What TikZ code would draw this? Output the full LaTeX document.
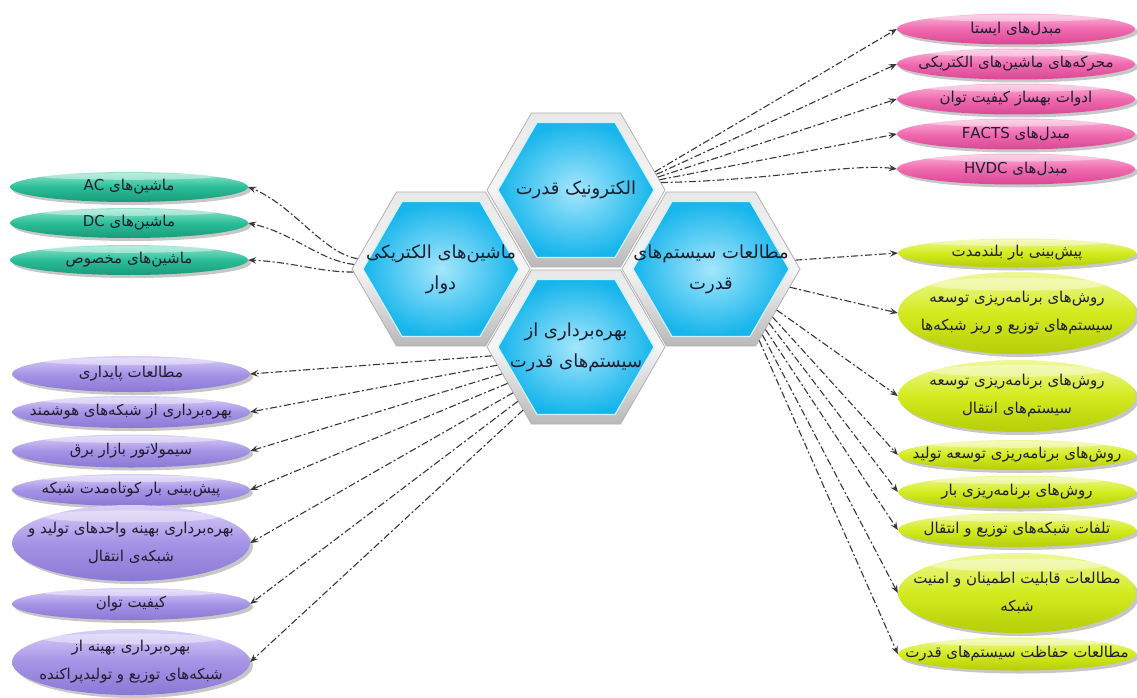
\documentclass[tikz,border=0pt]{standalone}
\usepackage{fontspec}
\usetikzlibrary{shapes.geometric,arrows.meta,shadows,calc}
\TeXXeTstate=1
\newfontfamily\arabicfont[Script=Arabic]{DejaVu Sans}
\newcommand{\rtxt}[1]{\beginR #1\endR}
\newcommand{\ltxt}[1]{\beginL #1\endL{}}
\definecolor{gmain}{HTML}{2ABE98}
\definecolor{glight}{HTML}{93E4CE}
\definecolor{gdark}{HTML}{1A9A7A}
\definecolor{pmain}{HTML}{F06AAE}
\definecolor{plight}{HTML}{FAB8DA}
\definecolor{pdark}{HTML}{D84794}
\definecolor{ymain}{HTML}{D3EB1E}
\definecolor{ylight}{HTML}{EFF89A}
\definecolor{ydark}{HTML}{B6CD08}
\definecolor{vmain}{HTML}{A593E6}
\definecolor{vlight}{HTML}{D8D0F8}
\definecolor{vdark}{HTML}{8A78D6}
\definecolor{hexin}{HTML}{A5E6FC}
\definecolor{hexout}{HTML}{16B5EC}
\definecolor{hexedge}{HTML}{CDF1FD}
\definecolor{linec}{HTML}{383838}
\definecolor{txt}{HTML}{1E1E30}
\begin{document}
\begin{tikzpicture}[x=1pt,y=-1pt,
  oval/.style={ellipse, inner xsep=-100pt, inner ysep=-16pt, minimum width=238pt,
    font=\arabicfont\fontsize{15}{28}\selectfont, text=txt, align=center,
    drop shadow={shadow xshift=3pt, shadow yshift=-3pt, fill=black, opacity=0.22},
    path picture={\fill[white,opacity=0.4] let \p1=(path picture bounding box.north east),
      \p2=(path picture bounding box.south west) in
      ($(path picture bounding box.north)!0.15!(path picture bounding box.south)$)
      ellipse [x radius={0.37*(\x1-\x2)}, y radius={0.06*(\y1-\y2)+1.5}];}},
  goval/.style={oval, top color=glight, bottom color=gdark, middle color=gmain, minimum height=#1},
  goval/.default=30pt,
  poval/.style={oval, top color=plight, bottom color=pdark, middle color=pmain, minimum height=#1},
  poval/.default=31pt,
  yoval/.style={oval, top color=ylight, bottom color=ydark, middle color=ymain, minimum height=#1},
  yoval/.default=31pt,
  voval/.style={oval, top color=vlight, bottom color=vdark, middle color=vmain, minimum height=#1},
  voval/.default=33pt,
  hexo/.style={regular polygon, regular polygon sides=6, minimum size=178pt, inner sep=0pt,
    top color=gray!18, bottom color=gray!55, middle color=gray!8, draw=gray!60, line width=0.8pt},
  hexi/.style={regular polygon, regular polygon sides=6, minimum size=156pt, inner sep=0pt,
    inner color=hexin, outer color=hexout, draw=hexedge, line width=1.2pt},
  hext/.style={font=\arabicfont\fontsize{18}{31}\selectfont, text=txt, align=center},
  conn/.style={draw=linec, line width=1.1pt, dash pattern=on 7pt off 2.5pt on 2pt off 2.5pt,
    -{Stealth[length=8pt,width=6.5pt,inset=3pt]}}
]
\useasboundingbox (0,0) rectangle (1137,698);
\fill[white] (0,0) rectangle (1137,698);

% hexagons
\node[hexo] (hT) at (576,190) {};
\node[hexi] (hTi) at (hT.center) {};
\node[hext] (tT) at (hT.center) {\rtxt{الکترونیک قدرت}};

\node[hexo] (hL) at (441,269) {};
\node[hexi] (hLi) at (hL.center) {};
\node[hext] (tL) at (hL.center) {\rtxt{ماشین^^^^200cهای الکتریکی}\\\rtxt{دوار}};

\node[hexo] (hR) at (711,269) {};
\node[hexi] (hRi) at (hR.center) {};
\node[hext] (tR) at (hR.center) {\rtxt{مطالعات سیستم^^^^200cهای}\\\rtxt{قدرت}};

\node[hexo] (hB) at (576,347) {};
\node[hexi] (hBi) at (hB.center) {};
\node[hext] (tB) at (hB.center) {\rtxt{بهره^^^^200cبرداری از}\\\rtxt{سیستم^^^^200cهای قدرت}};

% green
\node[goval] (g1) at (129,187) {\rtxt{ماشین^^^^200cهای \ltxt{AC}}};
\node[goval] (g2) at (129,223) {\rtxt{ماشین^^^^200cهای \ltxt{DC}}};
\node[goval] (g3) at (129,260) {\rtxt{ماشین^^^^200cهای مخصوص}};

% pink
\node[poval] (p1) at (1016,29) {\rtxt{مبدل^^^^200cهای ایستا}};
\node[poval] (p2) at (1016,64) {\rtxt{محرکه^^^^200cهای ماشین^^^^200cهای الکتریکی}};
\node[poval] (p3) at (1016,99) {\rtxt{ادوات بهساز کیفیت توان}};
\node[poval] (p4) at (1016,134) {\rtxt{مبدل^^^^200cهای \ltxt{FACTS}}};
\node[poval] (p5) at (1016,169) {\rtxt{مبدل^^^^200cهای \ltxt{HVDC}}};

% yellow
\node[yoval=29pt] (y1) at (1017,253) {\rtxt{پیش^^^^200cبینی بار بلندمدت}};
\node[yoval=82pt] (y2) at (1017,313) {\rtxt{روش^^^^200cهای برنامه^^^^200cریزی توسعه}\\\rtxt{سیستم^^^^200cهای توزیع و ریز شبکه^^^^200cها}};
\node[yoval=72pt] (y3) at (1017,396) {\rtxt{روش^^^^200cهای برنامه^^^^200cریزی توسعه}\\\rtxt{سیستم^^^^200cهای انتقال}};
\node[yoval=30pt] (y4) at (1017,455) {\rtxt{روش^^^^200cهای برنامه^^^^200cریزی توسعه تولید}};
\node[yoval=33pt] (y5) at (1017,492) {\rtxt{روش^^^^200cهای برنامه^^^^200cریزی بار}};
\node[yoval=34pt] (y6) at (1017,530) {\rtxt{تلفات شبکه^^^^200cهای توزیع و انتقال}};
\node[yoval=80pt] (y7) at (1017,593) {\rtxt{مطالعات قابلیت اطمینان و امنیت}\\\rtxt{شبکه}};
\node[yoval=33pt] (y8) at (1017,654) {\rtxt{مطالعات حفاظت سیستم^^^^200cهای قدرت}};

% purple
\node[voval=36pt] (v1) at (131,374) {\rtxt{مطالعات پایداری}};
\node[voval=32pt] (v2) at (131,412) {\rtxt{بهره^^^^200cبرداری از شبکه^^^^200cهای هوشمند}};
\node[voval] (v3) at (131,451) {\rtxt{سیمولاتور بازار برق}};
\node[voval=32pt] (v4) at (131,490) {\rtxt{پیش^^^^200cبینی بار کوتاه^^^^200cمدت شبکه}};
\node[voval=76pt] (v5) at (131,543) {\rtxt{بهره^^^^200cبرداری بهینه واحدهای تولید و}\\\rtxt{شبکه^^^^200cی انتقال}};
\node[voval=32pt] (v6) at (131,604) {\rtxt{کیفیت توان}};
\node[voval=66pt] (v7) at (131,662) {\rtxt{بهره^^^^200cبرداری بهینه از}\\\rtxt{شبکه^^^^200cهای توزیع و تولیدپراکنده}};

% connectors: power electronics
\draw[conn] (hT.13) -- (p1.west);
\draw[conn] (hT.11) -- (p2.west);
\draw[conn] (hT.9) -- (p3.west);
\draw[conn] (hT.7) -- (p4.west);
\draw[conn] (hT.5) .. controls +(110,-2) and +(-45,-6) .. (p5.west);

% connectors: machines
\draw[conn] (hL.173) .. controls +(-35,-6) and +(45,18) .. (g1.east);
\draw[conn] (hL.177) .. controls +(-35,-4) and +(45,10) .. (g2.east);
\draw[conn] (hL.182) .. controls +(-35,0) and +(45,2) .. (g3.east);

% connectors: power systems studies
\draw[conn] (hR.6) -- (y1.west);
\draw[conn] (hR.-13) -- (y2.west);
\draw[conn] (hR.-32) -- (y3.west);
\draw[conn] (hR.-38) -- (y4.west);
\draw[conn] (hR.-43) -- (y5.west);
\draw[conn] (hR.-48) -- (y6.west);
\draw[conn] (hR.-52) -- (y7.west);
\draw[conn] (hR.-56) -- (y8.west);

% connectors: operation
\draw[conn] (hB.186) -- (v1.east);
\draw[conn] (hB.193) -- (v2.east);
\draw[conn] (hB.200) -- (v3.east);
\draw[conn] (hB.208) -- (v4.east);
\draw[conn] (hB.216) -- (v5.east);
\draw[conn] (hB.223) -- (v6.east);
\draw[conn] (hB.230) -- (v7.east);
\end{tikzpicture}
\end{document}
